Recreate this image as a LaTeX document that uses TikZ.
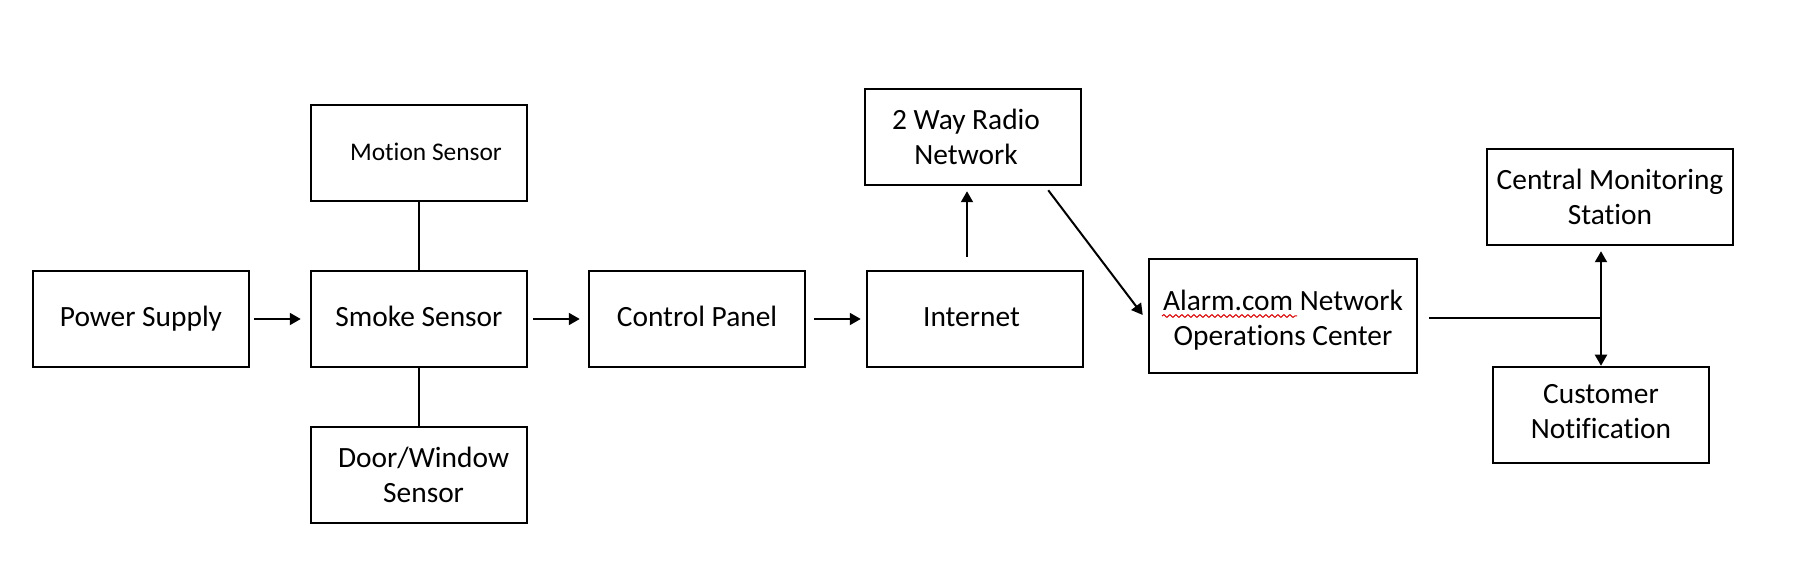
\documentclass[tikz,border=0pt]{standalone}
\usepackage{fontspec}
\setmainfont[RawFeature={-liga}]{Carlito}
\usetikzlibrary{arrows.meta,calc,decorations.pathmorphing}
\tikzset{
  box/.style={draw=black, line width=1.25pt, minimum width=108pt, minimum height=48pt,
    inner sep=0pt, font=\fontsize{14.7pt}{17.5pt}\selectfont, align=center},
  one/.style={text height=10pt, text depth=2pt},
  conn/.style={draw=black, line width=1pt},
  arr/.style={conn, -{Triangle[length=5.5pt,width=6pt]}},
  biarr/.style={conn, {Triangle[length=5.5pt,width=6pt]}-{Triangle[length=5.5pt,width=6pt]}},
  squiggle/.style={draw=red!85!black, line width=0.5pt, decorate,
    decoration={snake, segment length=3pt, amplitude=0.7pt}}
}
\begin{document}
\begin{tikzpicture}[x=0.5pt,y=-0.5pt]
\useasboundingbox (0,0) rectangle (1806,588);
\fill[white] (0,0) rectangle (1806,588);

\node[box,one] (power)    at (141,319) {Power Supply};
\node[box,one] (smoke)    at (419,319) {Smoke Sensor};
\node[box,one, font=\fontsize{12.7pt}{15pt}\selectfont] (motion) at (419,153) {\hspace*{7pt}Motion Sensor};
\node[box]     (door)     at (419,475) {\hspace*{4.6pt}Door/Window\\\hspace*{4.6pt}Sensor};
\node[box,one] (control)  at (697,319) {Control Panel};
\node[box,one] (internet) at (975,319) {\hspace*{-3.5pt}Internet};
\node[box]     (radio)    at (973,137) {\hspace*{-7pt}2 Way Radio\\\hspace*{-7pt}Network};
\node[box, minimum width=134pt, minimum height=57pt] (alarm) at (1283,316)
  {\rule{0pt}{14.2pt}Alarm.com Network\\Operations Center};
\node[box, minimum width=123pt] (central)  at (1610,197) {Central Monitoring\\Station};
\node[box]     (customer) at (1601,415) {Customer\\Notification\rule[-3.5pt]{0pt}{3.5pt}};

% spell-check squiggle under "Alarm.com"
\draw[squiggle] ($(alarm.center)+(-121,0)$) -- ($(alarm.center)+(14,0)$);

% sensors attached to smoke sensor
\draw[conn] (motion.south) -- (smoke.north);
\draw[conn] (smoke.south) -- (door.north);

% main chain
\draw[arr, shorten <=2pt, shorten >=4.5pt] (power.east) -- (smoke.west);
\draw[arr, shorten <=2.5pt, shorten >=4pt] (smoke.east) -- (control.west);
\draw[arr, shorten <=4pt, shorten >=2.5pt] (control.east) -- (internet.west);
\draw[arr, shorten <=6.5pt, shorten >=2.5pt] ([xshift=-4pt]internet.north) -- ([xshift=-4pt]internet.north |- radio.south);
\draw[arr] ($(radio.south east)+(-34,4)$) -- ($(alarm.west)+(-5,-1)$);

% alarm.com to monitoring and customer
\coordinate (hstart) at ($(alarm.east)+(11,2)$);
\coordinate (junc) at (hstart -| customer.north);
\draw[conn] (hstart) -- (junc);
\draw[biarr, shorten <=2.5pt] (customer.north |- central.south) -- (customer.north);
\end{tikzpicture}
\end{document}
